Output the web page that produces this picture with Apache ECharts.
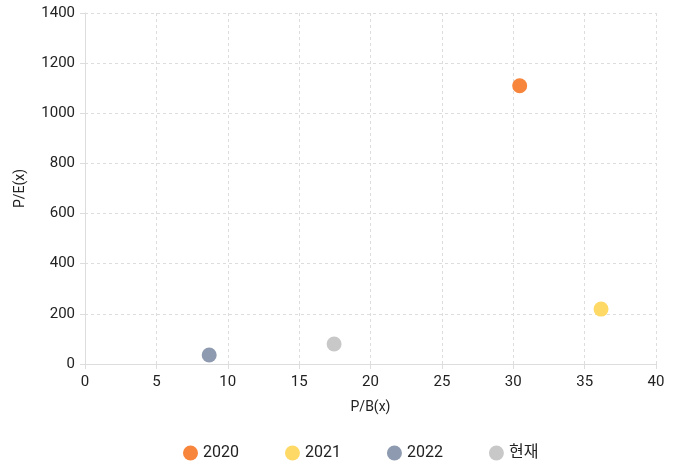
<!DOCTYPE html>
<html lang="ko">
<head>
  <meta charset="UTF-8" />
  <title>P/B - P/E</title>
  <script src="https://cdn.jsdelivr.net/npm/echarts@6/dist/echarts.min.js"></script>
  <style>
    html, body { margin: 0; padding: 0; background: #fff; }
    #chart { width: 684px; height: 470px; }
  </style>
</head>
<body>
  <div id="chart"></div>
  <script>
    // 연도별 P/B, P/E
    const seriesNames = ["2020", "2021", "2022", "현재"];
    const pbValues = [30.45, 36.15, 8.7, 17.45];
    const peValues = [1110, 219, 36, 80];
    const colors = ["#F7853B", "#FFD966", "#8E9AAF", "#C8C8C8"];

    const chart = echarts.init(document.getElementById("chart"));
    const font = "Roboto, 'Noto Sans CJK KR', sans-serif";

    chart.setOption({
      animation: false,
      textStyle: { fontFamily: font },
      grid: { left: 85, right: 28, top: 13, bottom: 106 },
      legend: {
        bottom: 4,
        left: 178,
        icon: "circle",
        itemWidth: 15,
        itemHeight: 15,
        itemGap: 46,
        textStyle: { fontSize: 16, color: "#222", fontFamily: font },
        data: seriesNames
      },
      xAxis: {
        type: "value",
        min: 0,
        max: 40,
        interval: 5,
        name: "P/B(x)",
        nameLocation: "middle",
        nameGap: 37,
        nameTextStyle: { fontSize: 14, color: "#222" },
        axisLine: { show: true, lineStyle: { color: "#ddd" } },
        axisTick: { show: true, lineStyle: { color: "#ddd" } },
        axisLabel: { fontSize: 15, color: "#222", margin: 11 },
        splitLine: { show: true, lineStyle: { color: "#ddd", type: [3, 3] } }
      },
      yAxis: {
        type: "value",
        min: 0,
        max: 1400,
        interval: 200,
        name: "P/E(x)",
        nameLocation: "middle",
        nameGap: 58,
        nameTextStyle: { fontSize: 14, color: "#222" },
        axisLine: { show: true, lineStyle: { color: "#ddd" } },
        axisTick: { show: true, lineStyle: { color: "#ddd" } },
        axisLabel: { fontSize: 15, color: "#222", margin: 10, formatter: (v) => String(v) },
        splitLine: { show: true, lineStyle: { color: "#ddd", type: [3, 3] } }
      },
      series: seriesNames.map((name, i) => ({
        name: name,
        type: "scatter",
        symbolSize: 15,
        itemStyle: { color: colors[i], opacity: 1 },
        data: [[pbValues[i], peValues[i]]]
      }))
    });
  </script>
</body>
</html>
